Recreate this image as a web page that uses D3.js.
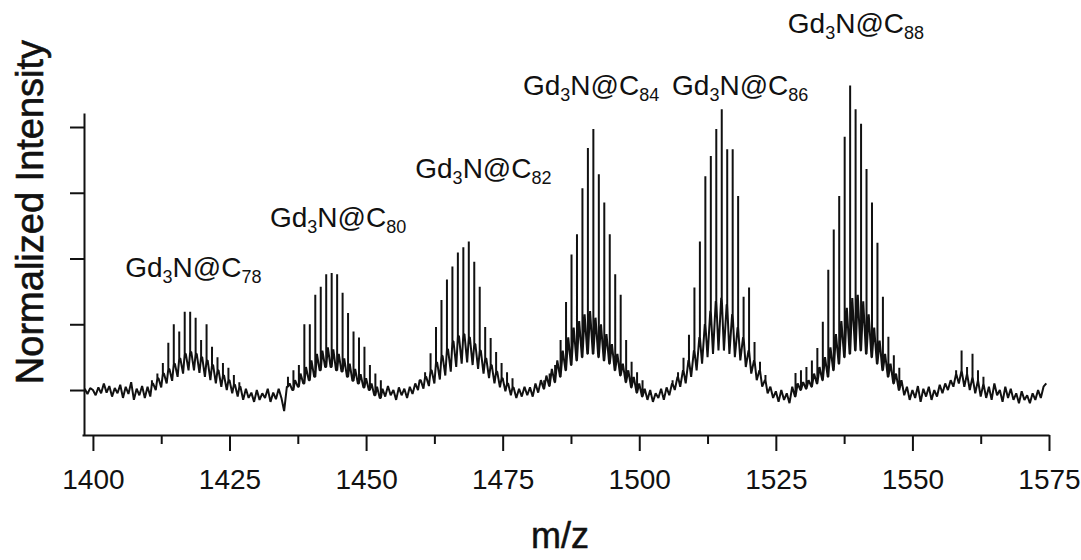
<!DOCTYPE html>
<html>
<head>
<meta charset="utf-8">
<script src="https://cdn.jsdelivr.net/npm/d3@7"></script>
<style>
  body { margin: 0; background: #fff; }
  svg { display: block; font-family: "Liberation Sans", Arial, Helvetica, sans-serif; }
</style>
</head>
<body>
<svg id="vis" width="1081" height="560"></svg>
<script>
// lower trace of the spectrum, sampled every 0.5 m/z from 1398.5
const traceStart = 1398.5;
const traceStep = 0.5;
const trace = [
  0.02, -0.06, 0.03,
  0.0, -0.08, 0.04, -0.05, 0.1, -0.04, 0.06, -0.1, 0.03, -0.05,
  0.08, -0.12, 0.05, -0.06, 0.12, -0.15, 0.02, -0.08, 0.06, -0.12,
  0.05, -0.1, 0.1, 0.0, 0.18, 0.04, 0.25, 0.1, 0.32, 0.14,
  0.4, 0.2, 0.48, 0.25, 0.55, 0.3, 0.58, 0.3, 0.55, 0.26,
  0.5, 0.2, 0.45, 0.15, 0.38, 0.1, 0.3, 0.05, 0.22, 0.0,
  0.15, -0.05, 0.08, -0.1, 0.05, -0.15, 0.02, -0.12, -0.04, -0.18,
  0.0, -0.15, -0.05, -0.12, 0.02, -0.18, -0.04, -0.14, 0.02, -0.12,
  -0.32, 0.05, 0.1, 0.0, 0.15, 0.05, 0.25, 0.1, 0.35, 0.15,
  0.45, 0.2, 0.55, 0.3, 0.6, 0.35, 0.65, 0.35, 0.62, 0.3,
  0.55, 0.28, 0.48, 0.2, 0.4, 0.14, 0.32, 0.1, 0.24, 0.04,
  0.18, 0.0, 0.1, -0.08, 0.05, -0.12, 0.02, -0.1, 0.06, -0.08,
  0.0, -0.15, 0.04, -0.08, 0.02, -0.12, 0.05, -0.06, 0.1, 0.0,
  0.15, 0.02, 0.2, 0.06, 0.3, 0.1, 0.42, 0.16, 0.52, 0.22,
  0.62, 0.28, 0.74, 0.35, 0.82, 0.4, 0.85, 0.42, 0.8, 0.38,
  0.7, 0.32, 0.6, 0.25, 0.48, 0.18, 0.38, 0.1, 0.28, 0.04,
  0.18, -0.02, 0.1, -0.08, 0.04, -0.12, 0.02, -0.1, 0.05, -0.08,
  0.04, -0.1, 0.1, -0.04, 0.15, 0.02, 0.22, 0.06, 0.32, 0.12,
  0.45, 0.2, 0.6, 0.3, 0.8, 0.38, 0.95, 0.45, 1.05, 0.5,
  1.15, 0.55, 1.2, 0.55, 1.1, 0.5, 1.0, 0.45, 0.85, 0.4,
  0.7, 0.3, 0.55, 0.22, 0.4, 0.12, 0.3, 0.04, 0.2, -0.04,
  0.1, -0.1, 0.02, -0.15, 0.0, -0.18, -0.05, -0.12, 0.02, -0.15,
  0.04, -0.08, 0.1, 0.0, 0.2, 0.05, 0.3, 0.1, 0.45, 0.2,
  0.6, 0.3, 0.8, 0.4, 1.0, 0.5, 1.2, 0.55, 1.35, 0.6,
  1.4, 0.6, 1.3, 0.55, 1.15, 0.5, 0.95, 0.45, 0.8, 0.35,
  0.6, 0.25, 0.45, 0.15, 0.3, 0.05, 0.15, -0.05, 0.05, -0.12,
  -0.02, -0.18, 0.0, -0.15, -0.05, -0.2, 0.05, -0.1, 0.1, 0.0,
  0.12, 0.02, 0.15, 0.05, 0.25, 0.1, 0.35, 0.15, 0.5, 0.2,
  0.65, 0.3, 0.85, 0.4, 1.05, 0.5, 1.25, 0.55, 1.4, 0.6,
  1.45, 0.6, 1.35, 0.55, 1.15, 0.5, 0.95, 0.4, 0.75, 0.3,
  0.55, 0.2, 0.4, 0.1, 0.25, 0.0, 0.15, -0.08, 0.05, -0.15,
  0.0, -0.12, 0.06, -0.18, 0.02, -0.1, 0.05, -0.15, 0.0, -0.1,
  0.08, -0.05, 0.1, 0.0, 0.15, 0.05, 0.25, 0.1, 0.3, 0.05,
  0.25, 0.0, 0.2, -0.05, 0.15, -0.1, 0.1, -0.12, 0.05, -0.15,
  0.1, -0.08, 0.0, -0.18, 0.05, -0.12, 0.02, -0.15, -0.05, -0.2,
  -0.02, -0.15, -0.08, -0.2, -0.05, -0.15, 0.0, -0.12, 0.05, 0.1
];

// isotope spike heights, one per m/z unit from each cluster's start
const c78 = [0.15, 0.25, 0.41, 0.72, 1.0, 0.89, 1.19, 1.19, 1.1, 0.76, 1.0, 0.66, 0.5, 0.41, 0.34, 0.23, 0.12];
const c80 = [0.2, 0.3, 0.38, 1.0, 1.0, 1.45, 1.57, 1.76, 1.78, 1.76, 1.48, 1.17, 0.89, 0.8, 0.66, 0.38, 0.25, 0.15];
const c82 = [0.15, 0.27, 0.56, 0.96, 1.37, 1.68, 1.88, 2.09, 2.17, 2.26, 1.95, 1.57, 0.96, 0.79, 0.58, 0.41, 0.27, 0.18];
const c84 = [0.15, 0.25, 0.38, 0.76, 1.34, 2.06, 2.37, 3.07, 3.68, 3.97, 3.28, 2.85, 2.37, 1.76, 1.45, 0.76, 0.43, 0.27, 0.15];
const c86 = [0.15, 0.27, 0.49, 0.84, 1.56, 2.26, 3.25, 3.56, 3.97, 4.27, 3.66, 3.66, 2.95, 1.42, 1.56, 0.73, 0.43, 0.23];
const c88 = [0.26, 0.3, 0.35, 0.45, 0.64, 1.04, 1.83, 2.44, 2.95, 3.85, 4.63, 4.27, 4.05, 3.36, 2.85, 2.24, 1.42, 0.81, 0.53, 0.34];
const c90 = [0.3, 0.6, 0.35, 0.55, 0.3, 0.2];

const clusterStarts = [1410.8, 1435.7, 1459.8, 1482.6, 1506.1, 1528.6, 1558.0];
const clusterHeights = [c78, c80, c82, c84, c86, c88, c90];

// labels: cage size and where the label starts (m/z, intensity)
const cageSizes = ["78", "80", "82", "84", "86", "88"];
const labelMz = [1405.9, 1432.4, 1459.0, 1478.7, 1506.0, 1527.2];
const labelInt = [1.72, 2.48, 3.22, 4.49, 4.49, 5.43];

const xMajor = [1400, 1425, 1450, 1475, 1500, 1525, 1550, 1575];
const xMinor = [1412.5, 1437.5, 1462.5, 1487.5, 1512.5, 1537.5, 1562.5];
const yTicks = [0, 1, 2, 3, 4];

const svg = d3.select("#vis");

const x = d3.scaleLinear().domain([1398, 1575]).range([82, 1049]);
const y = d3.scaleLinear().domain([-0.684, 4.213]).range([435, 113]);

// build the point list: trace plus vertical isotope spikes
const pts = trace.map((v, i) => ({ mz: traceStart + i * traceStep, v: v, o: -1 }));
clusterHeights.forEach((hs, c) => {
  hs.forEach((h, k) => {
    const m = clusterStarts[c] + k;
    const i = Math.round((m - traceStart) / traceStep);
    const base = trace[i];
    pts.push({ mz: m, v: base, o: 0 }, { mz: m, v: h, o: 1 }, { mz: m, v: base, o: 2 });
  });
});
pts.sort((a, b) => a.mz - b.mz || a.o - b.o);

const line = d3.line()
  .x(d => x(d.mz))
  .y(d => y(d.v));

svg.append("path")
  .datum(pts)
  .attr("fill", "none")
  .attr("stroke", "#111")
  .attr("stroke-width", 2)
  .attr("stroke-linejoin", "bevel")
  .attr("d", line);

// axes
const xAxis = svg.append("g")
  .attr("transform", "translate(0,435)")
  .call(d3.axisBottom(x).tickValues(xMajor).tickSize(16).tickSizeOuter(0).tickFormat(d3.format("d")));

svg.append("g")
  .attr("transform", "translate(0,435)")
  .call(d3.axisBottom(x).tickValues(xMinor).tickSize(9).tickFormat(""))
  .call(g => g.select(".domain").remove());

xAxis.selectAll("text")
  .attr("y", 34)
  .attr("font-size", 28)
  .attr("font-family", "Liberation Sans, Arial, sans-serif")
  .attr("fill", "#111");

svg.append("g")
  .attr("transform", "translate(84,0)")
  .call(d3.axisLeft(y).tickValues(yTicks).tickSize(14).tickSizeOuter(0).tickFormat(""));

svg.selectAll(".domain, .tick line")
  .attr("stroke", "#111")
  .attr("stroke-width", 2);

// axis titles
svg.append("text")
  .attr("transform", "translate(43,212) rotate(-90)")
  .attr("text-anchor", "middle")
  .attr("font-size", 38)
  .attr("fill", "#111")
  .attr("stroke", "#111")
  .attr("stroke-width", 0.6)
  .text("Normalized Intensity");

svg.append("text")
  .attr("x", 560)
  .attr("y", 548)
  .attr("text-anchor", "middle")
  .attr("font-size", 36)
  .attr("fill", "#111")
  .attr("stroke", "#111")
  .attr("stroke-width", 0.5)
  .text("m/z");

// peak labels Gd3N@Cn
cageSizes.forEach((n, i) => {
  const t = svg.append("text")
    .attr("x", x(labelMz[i]))
    .attr("y", y(labelInt[i]))
    .attr("font-size", 28)
    .attr("fill", "#111");
  t.append("tspan").text("Gd");
  t.append("tspan").attr("font-size", 18).attr("dy", 6).text("3");
  t.append("tspan").attr("dy", -6).text("N@C");
  t.append("tspan").attr("font-size", 18).attr("dy", 6).text(n);
});
</script>
</body>
</html>
